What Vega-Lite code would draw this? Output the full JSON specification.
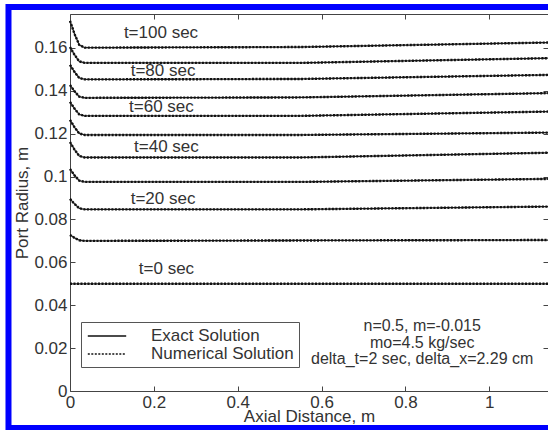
{
  "$schema": "https://vega.github.io/schema/vega-lite/v6.json",
  "width": 478,
  "height": 377,
  "autosize": "none",
  "padding": {"left": 70, "top": 14, "right": 0, "bottom": 39},
  "background": "white",
  "config": {
    "font": "Liberation Sans",
    "view": {"stroke": null},
    "axis": {"grid": false, "labelFontSize": 17, "titleFontSize": 17, "titleFontWeight": "normal", "labelColor": "#333", "titleColor": "#333", "domainColor": "#444", "tickColor": "#444", "labelFlush": false, "labelOverlap": false}
  },
  "datasets": {
    "curves": [
      {"t": 0, "x": 0, "r": 0.05}, {"t": 0, "x": 1.14, "r": 0.05},
      {"t": 10, "x": 0, "r": 0.0728}, {"t": 10, "x": 0.011, "r": 0.0714}, {"t": 10, "x": 0.022, "r": 0.0703}, {"t": 10, "x": 0.035, "r": 0.07}, {"t": 10, "x": 0.55, "r": 0.0702}, {"t": 10, "x": 1.14, "r": 0.0704},
      {"t": 20, "x": 0, "r": 0.0896}, {"t": 20, "x": 0.011, "r": 0.0872}, {"t": 20, "x": 0.022, "r": 0.0852}, {"t": 20, "x": 0.035, "r": 0.0847}, {"t": 20, "x": 0.55, "r": 0.0847}, {"t": 20, "x": 1.14, "r": 0.086},
      {"t": 30, "x": 0, "r": 0.1035}, {"t": 30, "x": 0.011, "r": 0.1005}, {"t": 30, "x": 0.022, "r": 0.0981}, {"t": 30, "x": 0.035, "r": 0.0975}, {"t": 30, "x": 0.55, "r": 0.0975}, {"t": 30, "x": 1.14, "r": 0.0989},
      {"t": 40, "x": 0, "r": 0.1161}, {"t": 40, "x": 0.011, "r": 0.1125}, {"t": 40, "x": 0.022, "r": 0.1096}, {"t": 40, "x": 0.035, "r": 0.1089}, {"t": 40, "x": 0.55, "r": 0.1089}, {"t": 40, "x": 1.14, "r": 0.1111},
      {"t": 50, "x": 0, "r": 0.1264}, {"t": 50, "x": 0.011, "r": 0.1229}, {"t": 50, "x": 0.022, "r": 0.1201}, {"t": 50, "x": 0.035, "r": 0.1194}, {"t": 50, "x": 0.55, "r": 0.1194}, {"t": 50, "x": 1.14, "r": 0.1205},
      {"t": 60, "x": 0, "r": 0.1348}, {"t": 60, "x": 0.011, "r": 0.1316}, {"t": 60, "x": 0.022, "r": 0.129}, {"t": 60, "x": 0.035, "r": 0.1283}, {"t": 60, "x": 0.55, "r": 0.1283}, {"t": 60, "x": 1.14, "r": 0.1303},
      {"t": 70, "x": 0, "r": 0.1427}, {"t": 70, "x": 0.011, "r": 0.1397}, {"t": 70, "x": 0.022, "r": 0.1373}, {"t": 70, "x": 0.035, "r": 0.1367}, {"t": 70, "x": 0.55, "r": 0.1369}, {"t": 70, "x": 1.14, "r": 0.1389},
      {"t": 80, "x": 0, "r": 0.1521}, {"t": 80, "x": 0.011, "r": 0.1487}, {"t": 80, "x": 0.022, "r": 0.146}, {"t": 80, "x": 0.035, "r": 0.1453}, {"t": 80, "x": 0.55, "r": 0.1455}, {"t": 80, "x": 1.14, "r": 0.1474},
      {"t": 90, "x": 0, "r": 0.1604}, {"t": 90, "x": 0.011, "r": 0.1567}, {"t": 90, "x": 0.022, "r": 0.1537}, {"t": 90, "x": 0.035, "r": 0.153}, {"t": 90, "x": 0.55, "r": 0.153}, {"t": 90, "x": 1.14, "r": 0.1552},
      {"t": 100, "x": 0, "r": 0.1726}, {"t": 100, "x": 0.011, "r": 0.1664}, {"t": 100, "x": 0.022, "r": 0.1614}, {"t": 100, "x": 0.035, "r": 0.1601}, {"t": 100, "x": 0.55, "r": 0.1604}, {"t": 100, "x": 1.14, "r": 0.1625}
    ],
    "curveLabels": [
      {"label": "t=100 sec", "x": 0.217, "r": 0.167},
      {"label": "t=80 sec", "x": 0.222, "r": 0.1493},
      {"label": "t=60 sec", "x": 0.218, "r": 0.1325},
      {"label": "t=40 sec", "x": 0.23, "r": 0.1138},
      {"label": "t=20 sec", "x": 0.222, "r": 0.0896},
      {"label": "t=0 sec", "x": 0.23, "r": 0.0569}
    ],
    "params": [
      {"label": "n=0.5, m=-0.015", "x": 0.84, "r": 0.0302},
      {"label": "mo=4.5 kg/sec", "x": 0.84, "r": 0.0225},
      {"label": "delta_t=2 sec, delta_x=2.29 cm", "x": 0.84, "r": 0.0148}
    ]
  },
  "layer": [
    {
      "encoding": {
        "x": {"field": "x", "type": "quantitative", "scale": {"domain": [0, 1.14], "nice": false, "zero": false},
          "axis": {"values": [0, 0.2, 0.4, 0.6, 0.8, 1], "format": "~g", "tickSize": -5, "labelPadding": 8, "title": "Axial Distance, m", "titlePadding": -2}},
        "y": {"field": "r", "type": "quantitative", "scale": {"domain": [0, 0.1758], "nice": false, "zero": false},
          "axis": {"values": [0, 0.02, 0.04, 0.06, 0.08, 0.1, 0.12, 0.14, 0.16], "format": "~g", "tickSize": -5, "labelPadding": 8, "title": "Port Radius, m", "titlePadding": 2}}
      },
      "layer": [
        {
          "data": {"name": "curves"},
          "mark": {"type": "line", "color": "#222", "strokeWidth": 1.3},
          "encoding": {
            "detail": {"field": "t", "type": "nominal"},
            "strokeDash": {"datum": "Exact Solution", "type": "nominal",
              "scale": {"domain": ["Exact Solution", "Numerical Solution"], "range": [[1, 0], [2, 1.5]]},
              "legend": {"title": null, "orient": "none", "legendX": 11, "legendY": 308, "symbolType": "M-2.4,0H2.4", "symbolSize": 256, "symbolOffset": 12, "symbolStrokeColor": "#222", "symbolFillColor": "transparent", "symbolStrokeWidth": 1.5, "labelFontSize": 17, "labelColor": "#333", "labelOffset": 35, "strokeColor": "#555", "fillColor": "white", "padding": 5, "rowPadding": 1}}
          }
        },
        {
          "data": {"name": "curves"},
          "mark": {"type": "line", "color": "#111", "strokeWidth": 2.4},
          "encoding": {
            "detail": {"field": "t", "type": "nominal"},
            "strokeDash": {"datum": "Numerical Solution", "type": "nominal"}
          }
        },
        {
          "data": {"name": "curveLabels"},
          "mark": {"type": "text", "fontSize": 17, "color": "#333", "align": "center", "baseline": "middle"},
          "encoding": {"text": {"field": "label"}}
        },
        {
          "data": {"name": "params"},
          "mark": {"type": "text", "fontSize": 16, "color": "#333", "align": "center", "baseline": "middle"},
          "encoding": {"text": {"field": "label"}}
        }
      ]
    },
    {
      "data": {"values": [{}]},
      "mark": {"type": "rect", "filled": false, "stroke": "#0000ff", "strokeWidth": 6},
      "encoding": {
        "x": {"datum": -0.1467, "type": "quantitative", "scale": {"domain": [0, 1.14], "nice": false, "zero": false},
          "axis": {"orient": "top", "values": [0, 0.2, 0.4, 0.6, 0.8, 1], "labels": false, "tickSize": -5, "title": null}},
        "x2": {"datum": 1.3},
        "y": {"datum": 0.1791, "type": "quantitative", "scale": {"domain": [0, 0.1758], "nice": false, "zero": false},
          "axis": {"orient": "right", "values": [0, 0.02, 0.04, 0.06, 0.08, 0.1, 0.12, 0.14, 0.16], "labels": false, "domain": false, "tickSize": -5, "title": null}},
        "y2": {"datum": -0.01726}
      }
    }
  ],
  "resolve": {"axis": {"x": "independent", "y": "independent"}}
}
